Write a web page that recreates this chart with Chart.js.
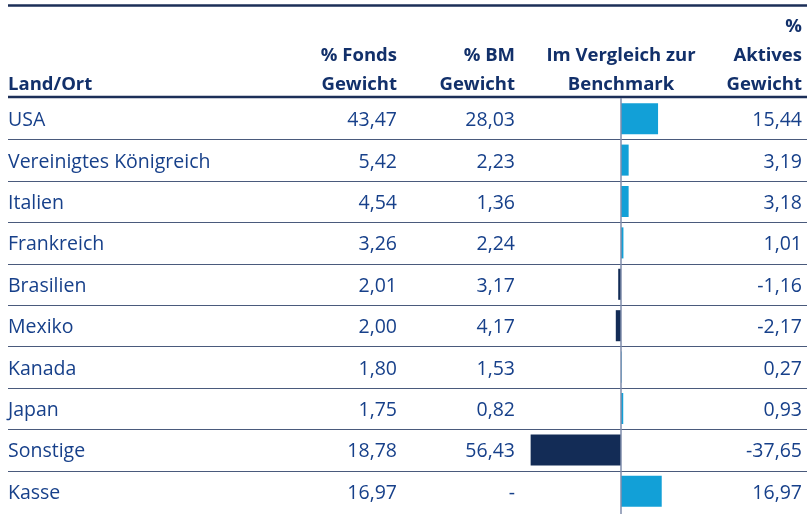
<!DOCTYPE html>
<html lang="de">
<head>
  <meta charset="UTF-8">
  <title>Länder</title>
  <script src="https://cdn.jsdelivr.net/npm/chart.js"></script>
  <style>
    html, body { margin: 0; padding: 0; background: #fff; }
    #wrap { width: 807px; height: 514px; }
  </style>
</head>
<body>
  <div id="wrap"><canvas id="countryChart"></canvas></div>

  <script>
    const countries = ['USA', 'Vereinigtes Königreich', 'Italien', 'Frankreich', 'Brasilien', 'Mexiko', 'Kanada', 'Japan', 'Sonstige', 'Kasse'];
    const fundWeights = [43.47, 5.42, 4.54, 3.26, 2.01, 2.00, 1.80, 1.75, 18.78, 16.97];
    const bmWeights = [28.03, 2.23, 1.36, 2.24, 3.17, 4.17, 1.53, 0.82, 56.43, null];
    const activeWeights = [15.44, 3.19, 3.18, 1.01, -1.16, -2.17, 0.27, 0.93, -37.65, 16.97];
    const headers = [
      ['Land/Ort'],
      ['% Fonds', 'Gewicht'],
      ['% BM', 'Gewicht'],
      ['Im Vergleich zur', 'Benchmark'],
      ['%', 'Aktives', 'Gewicht']
    ];

    const fmt = v => v === null ? '-' : v.toFixed(2).replace('.', ',');
    const textColor = '#17408a';
    const headColor = '#12306a';

    const tablePlugin = {
      id: 'tablePlugin',
      afterDraw(chart) {
        const ctx = chart.ctx;
        const x = chart.scales.x;
        const y = chart.scales.y;
        const left = 8, right = 807;
        const rowH = (y.bottom - y.top) / countries.length;
        ctx.save();

        // header
        ctx.fillStyle = headColor;
        ctx.font = 'bold 18.5px "Open Sans"';
        ctx.textBaseline = 'alphabetic';
        const colX = [left, 397, 515, x.getPixelForValue(0), 802];
        const align = ['left', 'right', 'right', 'center', 'right'];
        headers.forEach((lines, c) => {
          ctx.textAlign = align[c];
          lines.forEach((t, i) => {
            const base = 90 - (lines.length - 1 - i) * 29;
            ctx.fillText(t, colX[c], base);
          });
        });

        // rows
        ctx.font = '19.5px "Open Sans"';
        ctx.fillStyle = textColor;
        ctx.textBaseline = 'middle';
        countries.forEach((name, i) => {
          const cy = y.getPixelForValue(i) + 2;
          ctx.textAlign = 'left';
          ctx.fillText(name, colX[0], cy);
          ctx.textAlign = 'right';
          ctx.fillText(fmt(fundWeights[i]), colX[1], cy);
          ctx.fillText(fmt(bmWeights[i]), colX[2], cy);
          ctx.fillText(fmt(activeWeights[i]), colX[4], cy);
        });

        // row separators
        ctx.strokeStyle = '#4a5a7c';
        ctx.lineWidth = 1.2;
        for (let i = 1; i < countries.length; i++) {
          const ly = Math.round(y.top + i * rowH) + 0.5;
          ctx.beginPath();
          ctx.moveTo(left, ly);
          ctx.lineTo(right, ly);
          ctx.stroke();
        }

        // top and header rules
        ctx.strokeStyle = '#1c2f58';
        ctx.lineWidth = 2.5;
        ctx.beginPath();
        ctx.moveTo(left, 5.5);
        ctx.lineTo(right, 5.5);
        ctx.moveTo(left, y.top - 1);
        ctx.lineTo(right, y.top - 1);
        ctx.stroke();

        // zero line
        const zx = x.getPixelForValue(0);
        ctx.strokeStyle = '#7f8cab';
        ctx.lineWidth = 1.5;
        ctx.beginPath();
        ctx.moveTo(zx, y.top);
        ctx.lineTo(zx, 514);
        ctx.stroke();
        ctx.restore();
      }
    };

    new Chart(document.getElementById('countryChart'), {
      type: 'bar',
      data: {
        labels: countries,
        datasets: [{
          data: activeWeights,
          backgroundColor: activeWeights.map(v => v >= 0 ? '#12a0d7' : '#132c56'),
          barPercentage: 0.75,
          categoryPercentage: 1
        }]
      },
      options: {
        indexAxis: 'y',
        responsive: true,
        maintainAspectRatio: false,
        animation: false,
        layout: { padding: { left: 525, right: 90, top: 98, bottom: 2 } },
        plugins: { legend: { display: false }, tooltip: { enabled: false } },
        scales: {
          x: { min: -40, max: 40, display: false },
          y: { display: false }
        }
      },
      plugins: [tablePlugin]
    });
  </script>
</body>
</html>
